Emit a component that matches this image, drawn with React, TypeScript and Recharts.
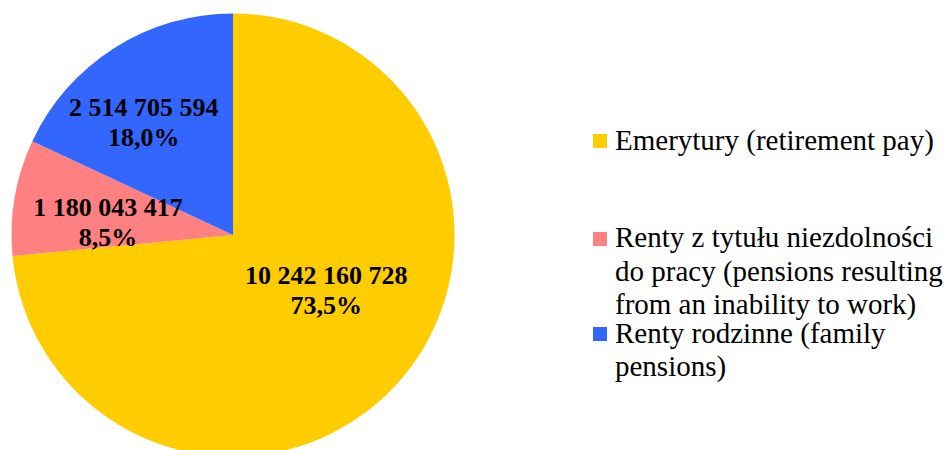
import { PieChart, Pie, Cell } from "recharts";

const CATEGORIES = [
  "Emerytury (retirement pay)",
  "Renty z tytułu niezdolności\ndo pracy (pensions resulting\nfrom an inability to work)",
  "Renty rodzinne (family\npensions)",
];
const VALUES = [10242160728, 1180043417, 2514705594];
const COLORS = ["#FFCC00", "#FF8080", "#3366FF"];

// label placement (ratio of radius, shift from mid angle)
const LABEL_RADIUS = [0.51, 0.565, 0.62];
const LABEL_SHIFT = 8;
// legend rows: top of each entry in px
const LEGEND_TOPS = [123.5, 221, 316.5];

const FONT = '"Liberation Serif", "Times New Roman", serif';
const RADIAN = Math.PI / 180;

const data = CATEGORIES.map((name, i) => ({ name, value: VALUES[i] }));

const fmtValue = (v: number) =>
  String(v).replace(/\B(?=(\d{3})+(?!\d))/g, " ");

function SliceLabel(props: any) {
  const { cx, cy, midAngle, outerRadius, index, value, percent } = props;
  const r = outerRadius * LABEL_RADIUS[index];
  const a = (midAngle + LABEL_SHIFT) * RADIAN;
  const x = cx + r * Math.cos(-a);
  const y = cy + r * Math.sin(-a);
  const pct = (percent * 100).toFixed(1).replace(".", ",") + "%";
  return (
    <text
      x={x}
      y={y}
      textAnchor="middle"
      fill="#000"
      fontFamily={FONT}
      fontWeight="bold"
      fontSize={26}
    >
      <tspan x={x} y={y - 15}>
        {fmtValue(value)}
      </tspan>
      <tspan x={x} y={y + 15}>
        {pct}
      </tspan>
    </text>
  );
}

export default function App() {
  return (
    <div
      style={{
        position: "absolute",
        left: 0,
        top: 0,
        width: 950,
        height: 450,
        background: "#fff",
        overflow: "hidden",
        fontFamily: FONT,
      }}
    >
      <PieChart width={950} height={450} margin={{ top: 0, right: 0, bottom: 0, left: 0 }}>
        <Pie
          data={data}
          dataKey="value"
          nameKey="name"
          cx={233}
          cy={235}
          outerRadius={221.5}
          startAngle={90}
          endAngle={-270}
          stroke="none"
          labelLine={false}
          label={SliceLabel}
          isAnimationActive={false}
        >
          {data.map((d, i) => (
            <Cell key={d.name} fill={COLORS[i]} />
          ))}
        </Pie>
      </PieChart>

      {data.map((d, i) => (
        <div
          key={d.name}
          style={{
            position: "absolute",
            left: 593,
            top: LEGEND_TOPS[i],
            display: "flex",
            alignItems: "flex-start",
            fontFamily: FONT,
            fontSize: 29,
            lineHeight: "33.5px",
            color: "#000",
          }}
        >
          <span
            style={{
              width: 14,
              height: 14,
              marginTop: 10.5,
              background: COLORS[i],
              flex: "none",
            }}
          />
          <span style={{ marginLeft: 8, whiteSpace: "pre", fontFamily: FONT }}>
            {d.name}
          </span>
        </div>
      ))}
    </div>
  );
}
